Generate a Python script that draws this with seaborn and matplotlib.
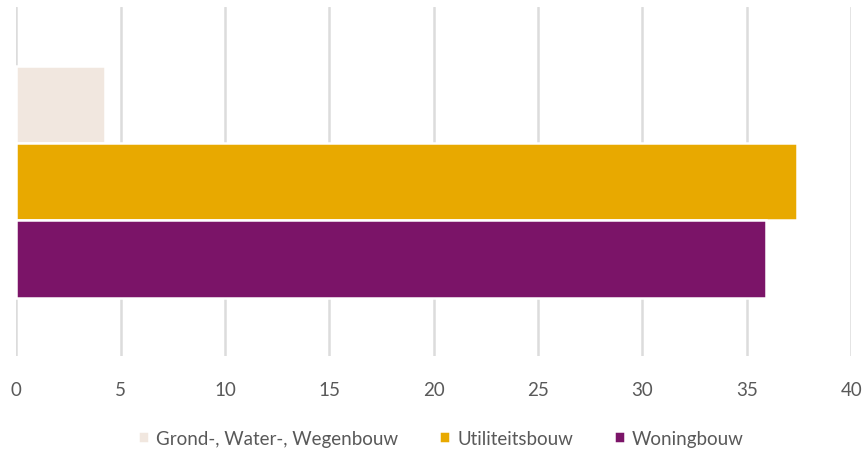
import matplotlib
matplotlib.use("Agg")
import matplotlib.pyplot as plt
import seaborn as sns
import pandas as pd

# data
categories = ["Grond-, Water-, Wegenbouw", "Utiliteitsbouw", "Woningbouw"]
values = [4.25, 37.4, 35.9]
colors = ["#f1e7df", "#e8a900", "#7b1468"]

df = pd.DataFrame({"groep": [""] * 3, "sector": categories, "waarde": values})

sns.set_theme(style="white")
plt.rcParams["font.family"] = ["Lato", "DejaVu Sans"]

fig = plt.figure(figsize=(8.65, 4.56), dpi=100)
ax = fig.add_axes([0.0188, 0.217, 0.9652, 0.765])

sns.barplot(data=df, x="waarde", y="groep", hue="sector", hue_order=categories,
            palette=colors, orient="h", width=0.665, ax=ax,
            edgecolor="white", linewidth=1.8, saturation=1, legend=True)

ax.set_xlim(0, 40)
ax.set_xticks(range(0, 45, 5))
ax.set_ylim(0.5, -0.5)
ax.set_yticks([])
ax.set_xlabel("")
ax.set_ylabel("")
for s in ax.spines.values():
    s.set_visible(False)
ax.grid(axis="x", color="#dcdcdc", linewidth=1.8)
ax.set_axisbelow(True)
ax.tick_params(axis="x", length=0, pad=18, labelsize=13.5, labelcolor="#595959")

handles, labels = ax.get_legend_handles_labels()
ax.legend_.remove()
fig.legend(handles, labels, loc="center", bbox_to_anchor=(0.51, 0.037), ncol=3,
           frameon=False, fontsize=13.5, labelcolor="#595959",
           handlelength=0.55, handleheight=0.55, handletextpad=0.4, columnspacing=2.2)

fig.savefig("out.png", dpi=100, facecolor="white")
